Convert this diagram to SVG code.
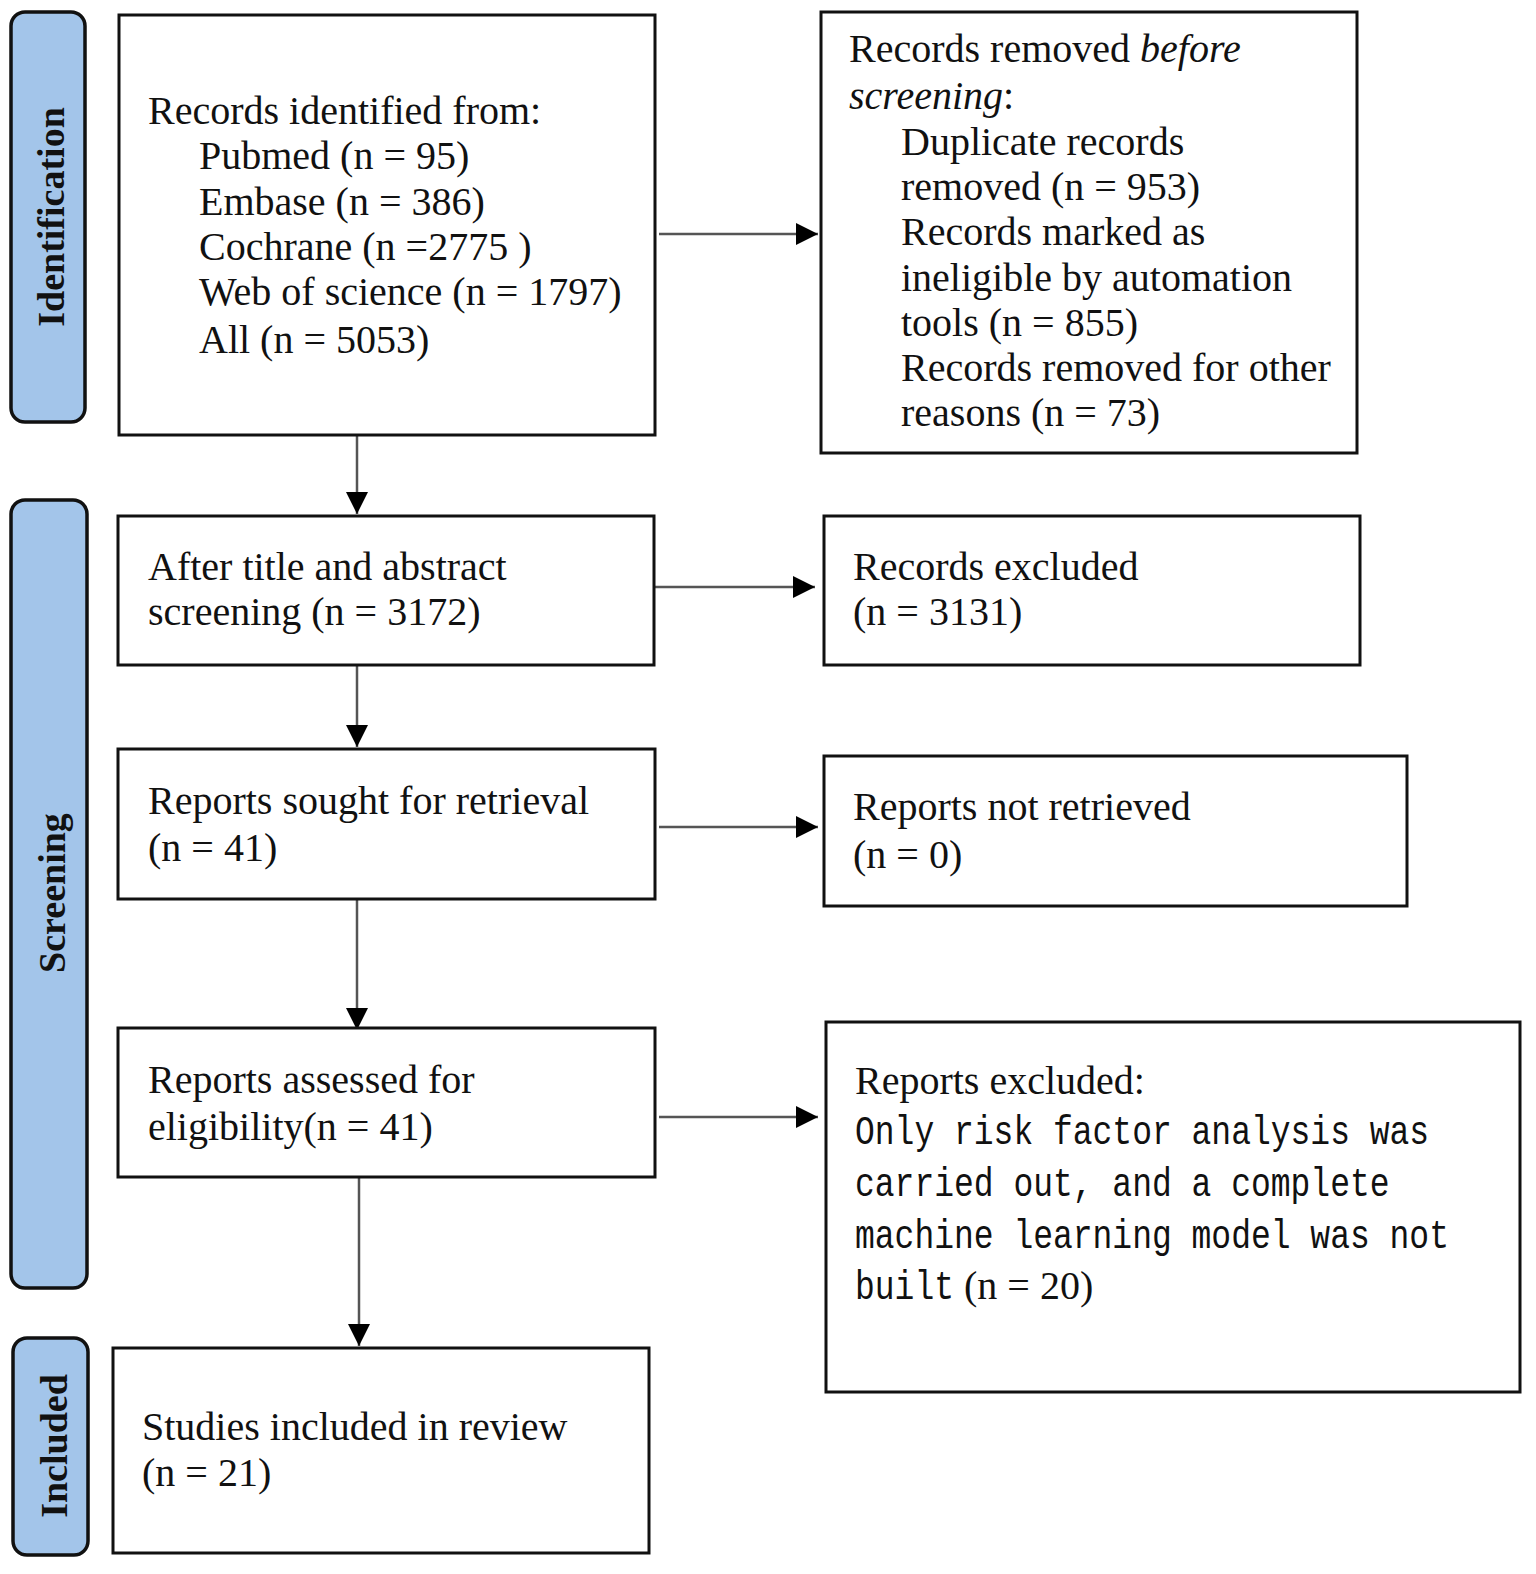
<svg xmlns="http://www.w3.org/2000/svg" width="1536" height="1574" viewBox="0 0 1536 1574">
<defs>
<marker id="ah" viewBox="0 0 10 10" refX="10" refY="5" markerWidth="22" markerHeight="22" markerUnits="userSpaceOnUse" orient="auto">
<path d="M0,0 L10,5 L0,10 Z" fill="#000"/>
</marker>
</defs>
<style>
.box{fill:#fff;stroke:#111;stroke-width:3}
.side{fill:#a3c5ea;stroke:#111;stroke-width:3.5}
.t{font-family:"Liberation Serif","Times New Roman",serif;font-size:40px;fill:#111}
.m{font-family:"Liberation Mono","Courier New",monospace;font-size:33px;fill:#111}
.s{font-family:"Liberation Serif","Times New Roman",serif;font-size:38px;font-weight:bold;fill:#111}
.c{stroke:#555;stroke-width:2.5;fill:none;marker-end:url(#ah)}
</style>
<rect width="1536" height="1574" fill="#fff"/>

<g id="side-identification">
<rect class="side" x="11" y="12" width="74" height="410" rx="14"/>
<text class="s" transform="translate(64,217) rotate(-90)" text-anchor="middle">Identification</text>
</g>
<g id="side-screening">
<rect class="side" x="11" y="500" width="76" height="788" rx="14"/>
<text class="s" transform="translate(65,893) rotate(-90)" text-anchor="middle">Screening</text>
</g>
<g id="side-included">
<rect class="side" x="13" y="1338" width="75" height="217" rx="14"/>
<text class="s" transform="translate(67,1446) rotate(-90)" text-anchor="middle">Included</text>
</g>

<g id="connectors">
<line class="c" x1="659" y1="234" x2="818" y2="234"/>
<line class="c" x1="357" y1="435" x2="357" y2="514"/>
<line class="c" x1="655" y1="587" x2="815" y2="587"/>
<line class="c" x1="357" y1="665" x2="357" y2="747"/>
<line class="c" x1="659" y1="827" x2="818" y2="827"/>
<line class="c" x1="357" y1="899" x2="357" y2="1030"/>
<line class="c" x1="659" y1="1117" x2="818" y2="1117"/>
<line class="c" x1="359" y1="1177" x2="359" y2="1346"/>
</g>

<g id="records-identified">
<rect class="box" x="119" y="15" width="536" height="420"/>
<text class="t" x="148" y="124">Records identified from:</text>
<text class="t" x="199" y="169">Pubmed (n = 95)</text>
<text class="t" x="199" y="215">Embase (n = 386)</text>
<text class="t" x="199" y="260">Cochrane (n =2775 )</text>
<text class="t" x="199" y="305">Web of science (n = 1797)</text>
<text class="t" x="199" y="353">All (n = 5053)</text>
</g>

<g id="records-removed">
<rect class="box" x="821" y="12" width="536" height="441"/>
<text class="t" x="849" y="62">Records removed <tspan font-style="italic">before</tspan></text>
<text class="t" x="849" y="109"><tspan font-style="italic">screening</tspan>:</text>
<text class="t" x="901" y="155">Duplicate records</text>
<text class="t" x="901" y="200">removed  (n = 953)</text>
<text class="t" x="901" y="245">Records marked as</text>
<text class="t" x="901" y="291">ineligible by automation</text>
<text class="t" x="901" y="336">tools (n = 855)</text>
<text class="t" x="901" y="381">Records removed for other</text>
<text class="t" x="901" y="426">reasons (n = 73)</text>
</g>

<g id="after-screening">
<rect class="box" x="118" y="516" width="536" height="149"/>
<text class="t" x="148" y="580">After title and abstract</text>
<text class="t" x="148" y="625">screening (n = 3172)</text>
</g>

<g id="records-excluded">
<rect class="box" x="824" y="516" width="536" height="149"/>
<text class="t" x="853" y="580">Records excluded</text>
<text class="t" x="853" y="625">(n = 3131)</text>
</g>

<g id="reports-sought">
<rect class="box" x="118" y="749" width="537" height="150"/>
<text class="t" x="148" y="814">Reports sought for retrieval</text>
<text class="t" x="148" y="861">(n = 41)</text>
</g>

<g id="reports-not-retrieved">
<rect class="box" x="824" y="756" width="583" height="150"/>
<text class="t" x="853" y="820">Reports not retrieved</text>
<text class="t" x="853" y="868">(n = 0)</text>
</g>

<g id="reports-assessed">
<rect class="box" x="118" y="1028" width="537" height="149"/>
<text class="t" x="148" y="1093">Reports assessed for</text>
<text class="t" x="148" y="1140">eligibility(n = 41)</text>
</g>

<g id="reports-excluded">
<rect class="box" x="826" y="1022" width="694" height="370"/>
<text class="t" x="855" y="1094">Reports excluded:</text>
<text class="m" transform="translate(855,1144) scale(1,1.25)">Only risk factor analysis was</text>
<text class="m" transform="translate(855,1196) scale(1,1.25)">carried out, and a complete</text>
<text class="m" transform="translate(855,1248) scale(1,1.25)">machine learning model was not</text>
<text class="m" transform="translate(855,1299) scale(1,1.25)">built</text>
<text class="t" x="964" y="1299">(n = 20)</text>
</g>

<g id="studies-included">
<rect class="box" x="113" y="1348" width="536" height="205"/>
<text class="t" x="142" y="1440">Studies included in review</text>
<text class="t" x="142" y="1486">(n = 21)</text>
</g>
</svg>
